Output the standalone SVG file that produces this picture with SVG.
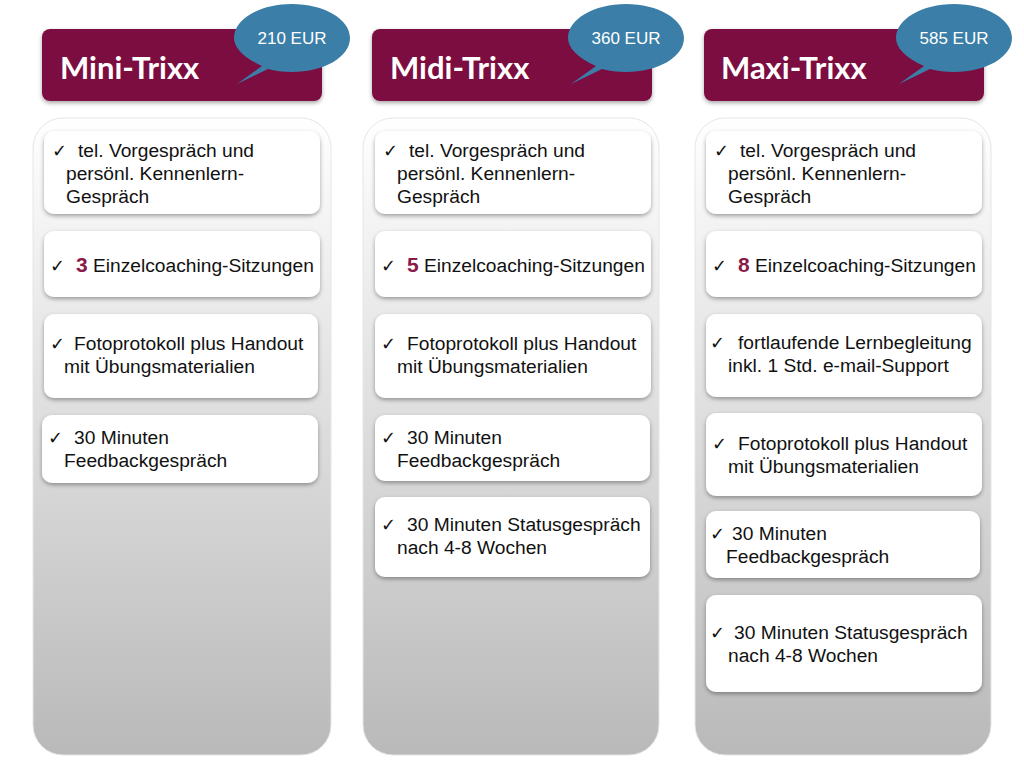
<svg xmlns="http://www.w3.org/2000/svg" width="1024" height="768" viewBox="0 0 1024 768">
<defs>
<linearGradient id="pg" x1="0" y1="0" x2="0" y2="1"><stop offset="0" stop-color="#ffffff"/><stop offset="1" stop-color="#b9b9b9"/></linearGradient>
<filter id="sh" x="-10%" y="-10%" width="120%" height="130%"><feDropShadow dx="0" dy="2" stdDeviation="2" flood-color="#000" flood-opacity="0.35"/></filter>
</defs>
<style>
.panel{fill:url(#pg);stroke:#e6e6e6;stroke-width:1}
.card{fill:#fff;filter:url(#sh)}
.head{fill:#7b1040;filter:url(#sh)}
.bub{fill:#3b7ea8}
.t{font-family:"Liberation Sans",Arial,sans-serif;font-size:19.2px;fill:#111}
.ck{font-family:"DejaVu Sans",sans-serif;font-size:18px;font-weight:bold;fill:#111}
.n{font-weight:bold;fill:#8a1a4a;font-size:21px}
.title{font-family:Lato,"Open Sans",sans-serif;font-weight:bold;font-size:31px;fill:#fff}
.price{font-family:"Liberation Sans",Arial,sans-serif;font-size:17px;fill:#fff}
</style>
<rect width="1024" height="768" fill="#fff"/>
<g id="col1">
<rect class="panel" x="33" y="118" width="298" height="637" rx="30"/>
<rect class="head" x="42" y="29" width="280" height="72" rx="8"/>
<text class="title" x="60" y="79">Mini-Trixx</text>
<path class="bub" d="M262,66 C244,58 234,48 234,38 C234,19 260,4 292,4 C324,4 350,19 350,38 C350,57 324,72 292,72 C283,72 275,71 268,69 L237,84 Z"/>
<text class="price" x="292" y="44" text-anchor="middle">210 EUR</text>
<rect class="card" x="44" y="131" width="276" height="83" rx="10"/>
<text class="t"><tspan class="ck" x="52" y="157">✓</tspan><tspan x="78" y="157">tel. Vorgespräch und</tspan><tspan x="66" y="180">persönl. Kennenlern-</tspan><tspan x="66" y="203">Gespräch</tspan></text>
<rect class="card" x="44" y="231" width="276" height="66" rx="10"/>
<text class="t"><tspan class="ck" x="50" y="272">✓</tspan><tspan class="n" x="76" y="272">3</tspan><tspan> Einzelcoaching-Sitzungen</tspan></text>
<rect class="card" x="44" y="314" width="274" height="84" rx="10"/>
<text class="t"><tspan class="ck" x="50" y="350">✓</tspan><tspan x="74" y="350">Fotoprotokoll plus Handout</tspan><tspan x="64" y="373">mit Übungsmaterialien</tspan></text>
<rect class="card" x="42" y="415" width="276" height="68" rx="10"/>
<text class="t"><tspan class="ck" x="48" y="444">✓</tspan><tspan x="74" y="444">30 Minuten</tspan><tspan x="64" y="467">Feedbackgespräch</tspan></text>
</g>
<g id="col2">
<rect class="panel" x="363" y="118" width="296" height="637" rx="30"/>
<rect class="head" x="372" y="29" width="280" height="72" rx="8"/>
<text class="title" x="390" y="79">Midi-Trixx</text>
<path class="bub" d="M596,66 C578,58 568,48 568,38 C568,19 594,4 626,4 C658,4 684,19 684,38 C684,57 658,72 626,72 C617,72 609,71 602,69 L571,84 Z"/>
<text class="price" x="626" y="44" text-anchor="middle">360 EUR</text>
<rect class="card" x="375" y="131" width="276" height="83" rx="10"/>
<text class="t"><tspan class="ck" x="383" y="157">✓</tspan><tspan x="409" y="157">tel. Vorgespräch und</tspan><tspan x="397" y="180">persönl. Kennenlern-</tspan><tspan x="397" y="203">Gespräch</tspan></text>
<rect class="card" x="375" y="231" width="276" height="66" rx="10"/>
<text class="t"><tspan class="ck" x="381" y="272">✓</tspan><tspan class="n" x="407" y="272">5</tspan><tspan> Einzelcoaching-Sitzungen</tspan></text>
<rect class="card" x="375" y="314" width="276" height="84" rx="10"/>
<text class="t"><tspan class="ck" x="381" y="350">✓</tspan><tspan x="407" y="350">Fotoprotokoll plus Handout</tspan><tspan x="397" y="373">mit Übungsmaterialien</tspan></text>
<rect class="card" x="375" y="415" width="275" height="66" rx="10"/>
<text class="t"><tspan class="ck" x="381" y="444">✓</tspan><tspan x="407" y="444">30 Minuten</tspan><tspan x="397" y="467">Feedbackgespräch</tspan></text>
<rect class="card" x="375" y="497" width="275" height="80" rx="10"/>
<text class="t"><tspan class="ck" x="381" y="531">✓</tspan><tspan x="407" y="531">30 Minuten Statusgespräch</tspan><tspan x="397" y="554">nach 4-8 Wochen</tspan></text>
</g>
<g id="col3">
<rect class="panel" x="695" y="118" width="296" height="637" rx="30"/>
<rect class="head" x="704" y="29" width="280" height="72" rx="8"/>
<text class="title" x="721" y="79">Maxi-Trixx</text>
<path class="bub" d="M924,66 C906,58 896,48 896,38 C896,19 922,4 954,4 C986,4 1012,19 1012,38 C1012,57 986,72 954,72 C945,72 937,71 930,69 L899,84 Z"/>
<text class="price" x="954" y="44" text-anchor="middle">585 EUR</text>
<rect class="card" x="706" y="131" width="276" height="83" rx="10"/>
<text class="t"><tspan class="ck" x="714" y="157">✓</tspan><tspan x="740" y="157">tel. Vorgespräch und</tspan><tspan x="728" y="180">persönl. Kennenlern-</tspan><tspan x="728" y="203">Gespräch</tspan></text>
<rect class="card" x="706" y="231" width="276" height="66" rx="10"/>
<text class="t"><tspan class="ck" x="712" y="272">✓</tspan><tspan class="n" x="738" y="272">8</tspan><tspan> Einzelcoaching-Sitzungen</tspan></text>
<rect class="card" x="706" y="314" width="276" height="83" rx="10"/>
<text class="t"><tspan class="ck" x="710" y="349">✓</tspan><tspan x="738" y="349">fortlaufende Lernbegleitung</tspan><tspan x="728" y="372">inkl. 1 Std. e-mail-Support</tspan></text>
<rect class="card" x="706" y="413" width="276" height="83" rx="10"/>
<text class="t"><tspan class="ck" x="712" y="450">✓</tspan><tspan x="738" y="450">Fotoprotokoll plus Handout</tspan><tspan x="728" y="473">mit Übungsmaterialien</tspan></text>
<rect class="card" x="706" y="511" width="274" height="67" rx="10"/>
<text class="t"><tspan class="ck" x="710" y="540">✓</tspan><tspan x="732" y="540">30 Minuten</tspan><tspan x="726" y="563">Feedbackgespräch</tspan></text>
<rect class="card" x="706" y="595" width="276" height="97" rx="10"/>
<text class="t"><tspan class="ck" x="710" y="639">✓</tspan><tspan x="734" y="639">30 Minuten Statusgespräch</tspan><tspan x="728" y="662">nach 4-8 Wochen</tspan></text>
</g>
</svg>
